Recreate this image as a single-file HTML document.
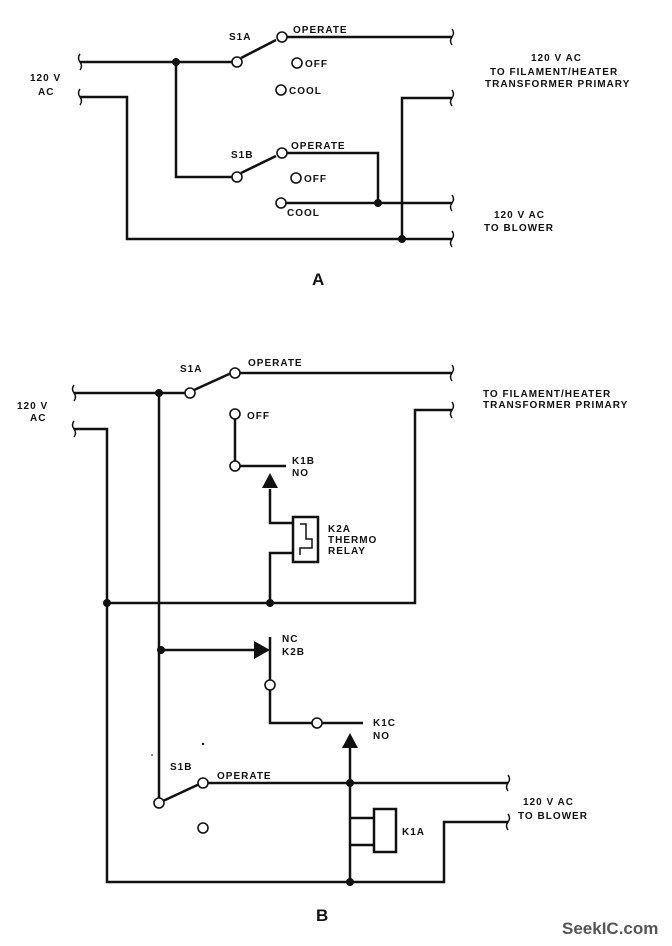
<!DOCTYPE html>
<html><head><style>
html,body{margin:0;padding:0;background:#fff;}
svg{display:block;}
text{font-family:"Liberation Sans",sans-serif;font-weight:bold;font-size:10px;fill:#111;letter-spacing:1px;}
</style></head><body>
<svg width="672" height="946" viewBox="0 0 672 946" xmlns="http://www.w3.org/2000/svg">
<g stroke="#111" stroke-width="2.5" fill="none">
<g stroke-width="1.5">
<path d="M80 54 q-3 4 0 8 q3 4 0 8"/><path d="M80 89 q-3 4 0 8 q3 4 0 8"/>
<path d="M452 29 q3 4 0 8 q-3 4 0 8"/><path d="M452 90 q3 4 0 8 q-3 4 0 8"/>
<path d="M452 195 q3 4 0 8 q-3 4 0 8"/><path d="M452 231 q3 4 0 8 q-3 4 0 8"/>
<path d="M74 385 q-3 4 0 8 q3 4 0 8"/><path d="M74 421 q-3 4 0 8 q3 4 0 8"/>
<path d="M452 365 q3 4 0 8 q-3 4 0 8"/><path d="M452 402 q3 4 0 8 q-3 4 0 8"/>
<path d="M508 775 q3 4 0 8 q-3 4 0 8"/><path d="M508 814 q3 4 0 8 q-3 4 0 8"/>
</g>
<path d="M80 62 H232"/>
<path d="M241 58 L276 40"/>
<path d="M287 37 H452"/>
<path d="M80 97 H127 V239 H452"/>
<path d="M176 62 V177 H232"/>
<path d="M241 173 L276 156"/>
<path d="M287 153 H378 V203"/>
<path d="M286 203 H452"/>
<path d="M452 98 H402 V239"/>
<path d="M74 393 H185"/>
<path d="M194 390 L238 370"/>
<path d="M240 373 H452"/>
<path d="M74 429 H107 V882 H444 V822 H508"/>
<path d="M107 603 H415 V410 H452"/>
<path d="M159 393 V798"/>
<path d="M235 419 V461"/>
<path d="M240 466 H286"/>
<path d="M270 489 V523 H293"/>
<path d="M293 553 H270 V603"/>
<path d="M161 650 H258"/>
<path d="M270 637 V663"/>
<path d="M270 663 V680"/>
<path d="M270 690 V723 H312"/>
<path d="M322 723 H363"/>
<path d="M350 748 V882"/>
<path d="M163 801 L206 781"/>
<path d="M208 783 H508"/>
<path d="M350 818 H374"/>
<path d="M350 845 H374"/>
<rect x="293" y="517" width="25" height="45"/>
<path d="M300 524 H306 V539 H312 V548 H300 V555" stroke-width="1.5"/>
<rect x="374" y="809" width="22" height="43"/>
</g>
<g stroke="#111" stroke-width="1.6" fill="#fff">
<circle cx="237" cy="62" r="5"/><circle cx="282" cy="37" r="5"/>
<circle cx="297" cy="63" r="5"/><circle cx="281" cy="90" r="5"/>
<circle cx="237" cy="177" r="5"/><circle cx="282" cy="153" r="5"/>
<circle cx="296" cy="178" r="5"/><circle cx="281" cy="203" r="5"/>
<circle cx="190" cy="393" r="5"/><circle cx="235" cy="373" r="5"/>
<circle cx="235" cy="414" r="5"/><circle cx="235" cy="466" r="5"/>
<circle cx="270" cy="685" r="5"/><circle cx="317" cy="723" r="5"/>
<circle cx="159" cy="803" r="5"/><circle cx="203" cy="783" r="5"/>
<circle cx="203" cy="828" r="5"/>
</g>
<g fill="#111">
<circle cx="176" cy="62" r="4"/><circle cx="378" cy="203" r="4"/><circle cx="402" cy="239" r="4"/>
<circle cx="159" cy="393" r="4"/><circle cx="107" cy="603" r="4"/><circle cx="270" cy="603" r="4"/>
<circle cx="161" cy="650" r="4"/><circle cx="350" cy="783" r="4"/><circle cx="350" cy="882" r="4"/>
<path d="M262 474 L278 474 L270 489 Z" transform="rotate(180 270 481)"/>
<path d="M342 748 L358 748 L350 733 Z"/>
<path d="M254 641 L270 650 L254 659 Z"/>
<circle cx="203" cy="744" r="1.2"/><circle cx="152" cy="755" r="0.8"/>
</g>
<text x="229" y="40">S1A</text><text x="293" y="33">OPERATE</text>
<text x="305" y="67">OFF</text><text x="289" y="94">COOL</text>
<text x="30" y="81">120 V</text><text x="38" y="95">AC</text>
<text x="531" y="61">120 V AC</text><text x="490" y="75">TO FILAMENT/HEATER</text>
<text x="485" y="87">TRANSFORMER PRIMARY</text>
<text x="231" y="158">S1B</text><text x="291" y="149">OPERATE</text>
<text x="304" y="182">OFF</text><text x="287" y="216">COOL</text>
<text x="494" y="218">120 V AC</text><text x="484" y="231">TO BLOWER</text>
<text x="312" y="285" style="font-size:17px;letter-spacing:0">A</text>
<text x="180" y="372">S1A</text><text x="248" y="366">OPERATE</text>
<text x="17" y="409">120 V</text><text x="30" y="421">AC</text>
<text x="483" y="397">TO FILAMENT/HEATER</text><text x="483" y="408">TRANSFORMER PRIMARY</text>
<text x="247" y="419">OFF</text>
<text x="292" y="464">K1B</text><text x="292" y="476">NO</text>
<text x="328" y="532">K2A</text><text x="328" y="543">THERMO</text><text x="328" y="554">RELAY</text>
<text x="282" y="642">NC</text><text x="282" y="655">K2B</text>
<text x="373" y="726">K1C</text><text x="373" y="739">NO</text>
<text x="170" y="770">S1B</text><text x="217" y="779">OPERATE</text>
<text x="523" y="805">120 V AC</text><text x="518" y="819">TO BLOWER</text>
<text x="402" y="835">K1A</text>
<text x="316" y="921" style="font-size:17px;letter-spacing:0">B</text>
<text x="562" y="934" style="font-size:17px;letter-spacing:0;fill:#555">SeekIC.com</text>
</svg>
</body></html>
